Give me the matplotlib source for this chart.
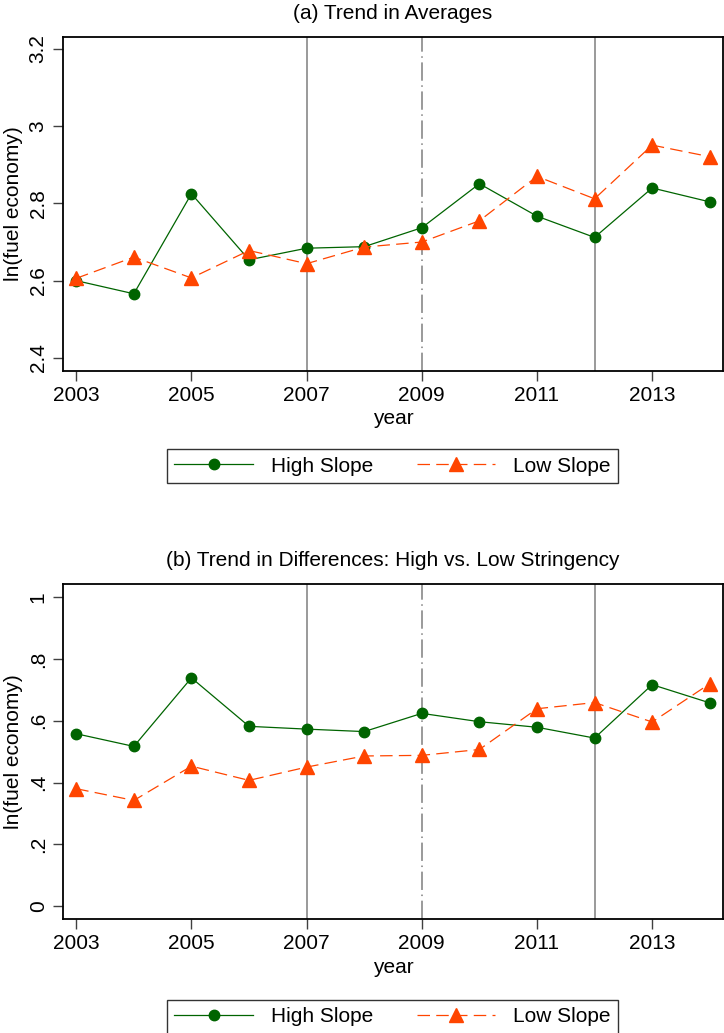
import matplotlib
matplotlib.use("Agg")
import matplotlib.pyplot as plt

plt.rcParams['font.family'] = ['Liberation Sans', 'DejaVu Sans']

years = [2003, 2004, 2005, 2006, 2007, 2008, 2009, 2010, 2011, 2012, 2013, 2014]

avg_high = [2.600, 2.566, 2.825, 2.654, 2.684, 2.688, 2.737, 2.851, 2.767, 2.712, 2.840, 2.804]
avg_low = [2.606, 2.661, 2.607, 2.678, 2.644, 2.687, 2.700, 2.755, 2.870, 2.812, 2.951, 2.921]

diff_high = [0.558, 0.517, 0.739, 0.582, 0.573, 0.565, 0.624, 0.597, 0.579, 0.544, 0.717, 0.658]
diff_low = [0.380, 0.342, 0.453, 0.407, 0.450, 0.486, 0.488, 0.507, 0.639, 0.659, 0.596, 0.720]

xticks = [2003, 2005, 2007, 2009, 2011, 2013]
yticks_a = [2.4, 2.6, 2.8, 3.0, 3.2]
ylabels_a = ["2.4", "2.6", "2.8", "3", "3.2"]
yticks_b = [0, 0.2, 0.4, 0.6, 0.8, 1.0]
ylabels_b = ["0", ".2", ".4", ".6", ".8", "1"]

solid_vlines = [2007, 2012]
dashdot_vline = 2009

titles = ["(a) Trend in Averages", "(b) Trend in Differences: High vs. Low Stringency"]
series_names = ["High Slope", "Low Slope"]

GREEN = "#006400"
ORANGE = "#FF4500"
GRAY = "#7f7f7f"
FS = 15

fig = plt.figure(figsize=(7.24, 10.33), dpi=100)
fig.patch.set_facecolor("white")

W, H = 724.0, 1033.0
left = 63 / W
width = (723 - 63) / W
axA = fig.add_axes([left, 1 - 371 / H, width, (371 - 37) / H])
axB = fig.add_axes([left, 1 - 919 / H, width, (919 - 584) / H])

panels = [
    (axA, avg_high, avg_low, yticks_a, ylabels_a, (2.366, 3.231), titles[0], 466),
    (axB, diff_high, diff_low, yticks_b, ylabels_b, (-0.042, 1.043), titles[1], 1017),
]

for ax, hi, lo, yt, yl, ylim, title, leg_y in panels:
    for xv in solid_vlines:
        ax.axvline(xv, color=GRAY, lw=1.1, zorder=1)
    ax.axvline(dashdot_vline, color=GRAY, lw=1.1, zorder=1,
               linestyle=(0, (12, 3, 1, 3)))
    l1, = ax.plot(years, hi, color=GREEN, lw=0.9, marker='o', ms=7.5,
                  markeredgecolor=GREEN, markerfacecolor=GREEN, zorder=3,
                  label=series_names[0])
    l2, = ax.plot(years, lo, color=ORANGE, lw=0.9, marker='^', ms=9.5,
                  markeredgecolor=ORANGE, markerfacecolor=ORANGE, zorder=4,
                  linestyle=(0, (10, 5)), label=series_names[1])
    ax.set_xlim(2002.77, 2014.23)
    ax.set_ylim(*ylim)
    ax.set_xticks(xticks)
    ax.set_xticklabels([str(x) for x in xticks], fontsize=FS)
    ax.set_yticks(yt)
    ax.set_yticklabels(yl, fontsize=FS, rotation=90, va='center')
    ax.tick_params(axis='both', direction='out', length=7, width=1.0,
                   color='#404040', pad=4)
    for s in ax.spines.values():
        s.set_linewidth(1.3)
        s.set_color('black')
    ax.set_title(title, fontsize=FS, pad=13)
    ax.set_ylabel("ln(fuel economy)", fontsize=FS)
    ax.yaxis.set_label_coords(-0.061, 0.5)
    ax.set_xlabel("year", fontsize=FS)
    ax.xaxis.set_label_coords(0.5, -0.115)
    leg = fig.legend(handles=[l1, l2], loc='center',
                     bbox_to_anchor=(392.5 / W, 1 - leg_y / H),
                     ncol=2, fontsize=FS, frameon=True, fancybox=False,
                     edgecolor='black', numpoints=1, handlelength=3.75,
                     handletextpad=0.87, columnspacing=2.1, borderpad=0.35)
    leg.get_frame().set_linewidth(1.0)

fig.savefig("out.png", dpi=100, facecolor="white")
